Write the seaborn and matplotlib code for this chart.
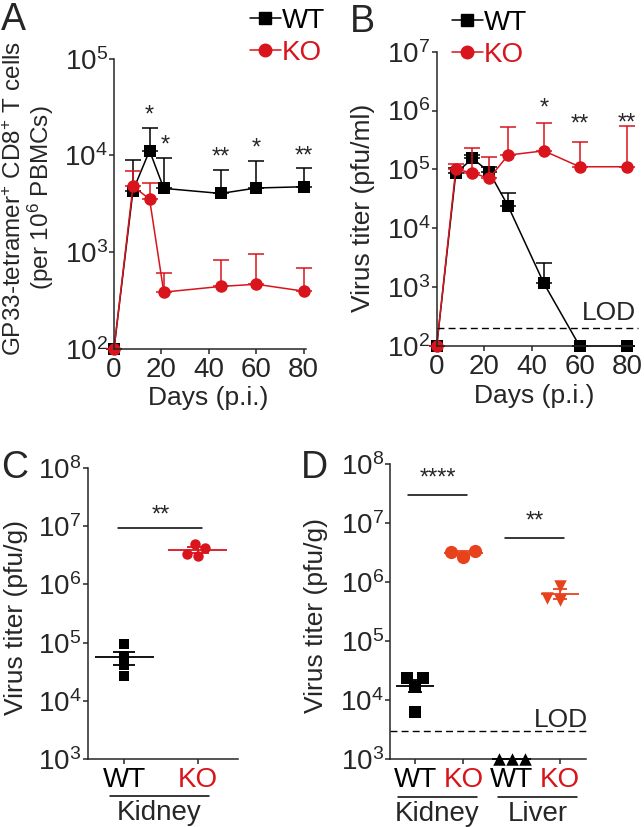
import numpy as np
import pandas as pd
import seaborn as sns
import matplotlib.pyplot as plt
from matplotlib import transforms
from matplotlib.lines import Line2D
from matplotlib.ticker import LogLocator, NullLocator

sns.set_style('ticks')
plt.rcParams['font.family'] = ['Liberation Sans', 'DejaVu Sans']
plt.rcParams['mathtext.fontset'] = 'custom'
plt.rcParams['mathtext.rm'] = 'Liberation Sans'
plt.rcParams['mathtext.it'] = 'Liberation Sans:italic'
plt.rcParams['mathtext.bf'] = 'Liberation Sans:bold'
plt.rcParams['mathtext.default'] = 'regular'
plt.rcParams['axes.linewidth'] = 1.1

RED = '#d8141c'
ORANGE = '#e8421c'

# ---- data A (tetramer+ cells, mean and top of error bar)
days_a = [0, 8, 15, 21, 45, 60, 80]
wt_a = [100, 4330, 11200, 4570, 4050, 4610, 4750]
wt_a_top = [100, 8980, 19300, 9460, 7130, 8810, 7350]
ko_a = [100, 4800, 3550, 387, 443, 467, 396]
ko_a_top = [100, 6840, 5240, 614, 828, 970, 695]
stars_a = ['', '', '*', '*', '**', '*', '**']

# ---- data B (virus titer in serum)
days_b = [0, 8, 15, 22, 30, 45, 60, 80]
wt_b = [100, 85500, 154000, 91000, 23800, 1160, 100, 100]
wt_b_top = [100, 105000, 175000, 110000, 40100, 2540, 100, 100]
ko_b = [100, 100000, 87700, 70300, 175000, 207000, 111000, 111000]
ko_b_top = [100, 126000, 228000, 164000, 528000, 603000, 287000, 550000]
stars_b = ['', '', '', '', '', '*', '**', '**']
stars_b_y = [0, 0, 0, 0, 0, 1.5e6, 7.8e5, 8.3e5]
lod_b = 200

# ---- data C (kidney)
c_wt = [95000, 59800, 41400, 26800]
c_ko = [4.2e6, 3.1e6, 3.36e6, 4.87e6]

# ---- data D (kidney and liver)
d_kid_wt = [23600, 24000, 16900, 6400]
d_kid_ko = [3.44e6, 3.22e6, 2.66e6]
d_liv_wt = [1000, 1000, 1000]
d_liv_ko = [877000, 500000, 548000]
lod_d = 3000

W, H = 644, 827
fig = plt.figure(figsize=(W / 100, H / 100), dpi=100)


def add_ax(l, t, r, b):
    return fig.add_axes([l / W, 1 - b / H, (r - l) / W, (b - t) / H])


def style_log(ax, lo, hi):
    ax.set_yscale('log')
    ax.set_ylim(lo, hi)
    ax.yaxis.set_major_locator(LogLocator(base=10, numticks=10))
    ax.yaxis.set_minor_locator(NullLocator())
    sns.despine(ax=ax)
    ax.tick_params(axis='both', labelsize=20, length=3.5, width=1.1, pad=2)
    ax.tick_params(axis='y', pad=1)


def time_panel(ax, days, wt, wt_top, ko, ko_top):
    df = pd.DataFrame({'day': days * 2, 'titer': wt + ko,
                       'geno': ['WT'] * len(days) + ['KO'] * len(days)})
    for g, col, top, mk in [('WT', 'black', wt_top, 's'), ('KO', RED, ko_top, 'o')]:
        sub = df[df.geno == g]
        ax.errorbar(sub.day, sub.titer, yerr=[np.zeros(len(sub)), np.array(top) - sub.titer.values],
                    fmt='none', ecolor=col, elinewidth=1.1, capsize=6, capthick=1.1, clip_on=False)
        sns.lineplot(data=sub, x='day', y='titer', color=col, marker=mk, markersize=9,
                     markeredgewidth=0, lw=1.1, ax=ax, clip_on=False, legend=False)
    ax.set_xlabel('Days (p.i.)', fontsize=19)
    ax.set_xticks([0, 20, 40, 60, 80])


def legend_at(ax, x, y):
    h = [Line2D([], [], color='black', marker='s', markersize=9, lw=1.1),
         Line2D([], [], color=RED, marker='o', markersize=9, lw=1.1)]
    ax.legend(h, ['WT', 'KO'], loc='upper left', bbox_to_anchor=(x / W, 1 - y / H),
              bbox_transform=fig.transFigure, frameon=False, handlelength=1.1,
              handletextpad=0.05, labelspacing=0.2, borderpad=0, borderaxespad=0,
              labelcolor='linecolor', fontsize=20)


def star(ax, x, y, s):
    ax.annotate(s, (x, y), xytext=(0, -10), textcoords='offset points',
                ha='center', va='baseline', fontsize=17, annotation_clip=False)


# ---------------- A
axA = add_ax(114, 58.7, 306, 349)
style_log(axA, 100, 1e5)
time_panel(axA, days_a, wt_a, wt_a_top, ko_a, ko_a_top)
axA.set_xlim(0, 81)
axA.set_ylabel('GP33-tetramer$^{+}$ CD8$^{+}$ T cells\n(per 10$^{6}$ PBMCs)', fontsize=17.5,
               linespacing=1.0)
axA.yaxis.set_label_coords(-0.30, 0.52)
axA.xaxis.set_label_coords(0.49, -0.128)
for d, top, s in zip(days_a, wt_a_top, stars_a):
    if s:
        star(axA, d + (0.5 if d == 21 else 0), top * 1.6, s)
legend_at(axA, 250, 8)

# ---------------- B
axB = add_ax(436.7, 51.7, 632, 346)
style_log(axB, 100, 1e7)
time_panel(axB, days_b, wt_b, wt_b_top, ko_b, ko_b_top)
axB.set_xlim(0, 82)
axB.axhline(lod_b, xmin=0, xmax=1.03, color='black', lw=1.0, dashes=(5, 3), clip_on=False)
axB.text(1.02, 280, 'LOD', transform=transforms.blended_transform_factory(axB.transAxes, axB.transData),
         ha='right', va='baseline', fontsize=19)
axB.set_ylabel('Virus titer (pfu/ml)', fontsize=19)
axB.yaxis.set_label_coords(-0.316, 0.47)
axB.xaxis.set_label_coords(0.5, -0.128)
for d, yy, s in zip(days_b, stars_b_y, stars_b):
    if s:
        star(axB, d, yy, s)
legend_at(axB, 452, 10)


# ---------------- C and D
def dot_panel(ax, groups, order, labels, halfw, cap):
    style_log(ax, 1e3, 1e8)
    frames = []
    for name, vals, col, mk, sz in groups:
        frames.append(pd.DataFrame({'group': name, 'titer': vals}))
    df = pd.concat(frames)
    for i, (name, vals, col, mk, sz) in enumerate(groups):
        sub = df[df.group == name]
        sns.swarmplot(data=sub, x='group', y='titer', order=order, color=col, marker=mk,
                      size=sz, linewidth=0, ax=ax, zorder=3)
        m = np.mean(vals)
        sem = np.std(vals, ddof=1) / np.sqrt(len(vals))
        ax.hlines(m, i - halfw, i + halfw, color=col, lw=1.3, zorder=4, clip_on=False)
        if sem > 0:
            ax.errorbar(i, m, yerr=sem, fmt='none', ecolor=col, elinewidth=1.3,
                        capsize=cap, capthick=1.3, zorder=4)
    for c in ax.collections:
        c.set_clip_on(False)
    ax.set_xticks(range(len(order)))
    ax.set_xticklabels(labels)
    for t, lab in zip(ax.get_xticklabels(), labels):
        t.set_color(RED if lab == 'KO' else 'black')
    ax.set_xlabel('')
    ax.set_ylabel('Virus titer (pfu/g)', fontsize=19)


def bracket(ax, x0, x1, y, s, sy):
    ax.plot([x0, x1], [y, y], color='black', lw=1.1, clip_on=False)
    star(ax, (x0 + x1) / 2, sy, s)


def organ(ax, x0, x1, name):
    tr = transforms.blended_transform_factory(ax.transData, ax.transAxes)
    ax.plot([x0, x1], [-0.127, -0.127], color='black', lw=1.1, transform=tr, clip_on=False)
    ax.text((x0 + x1) / 2, -0.14, name, transform=tr, ha='center', va='top', fontsize=20)


axC = add_ax(87.7, 467.7, 238, 759.3)
dot_panel(axC, [('WT', c_wt, 'black', 's', 6.5), ('KO', c_ko, RED, 'o', 7.5)],
          ['WT', 'KO'], ['WT', 'KO'], 0.4, 8)
axC.set_xlim(-0.5, 1.55)
axC.yaxis.set_label_coords(-0.40, 0.485)
bracket(axC, -0.08, 1.06, 9.2e6, '**', 2.1e7)
organ(axC, -0.2, 1.15, 'Kidney')

axD = add_ax(390, 464.3, 585.7, 759.3)
dot_panel(axD, [('Kidney WT', d_kid_wt, 'black', 's', 8.5), ('Kidney KO', d_kid_ko, ORANGE, 'o', 9.5),
                ('Liver WT', d_liv_wt, 'black', '^', 9), ('Liver KO', d_liv_ko, ORANGE, 'v', 9)],
          ['Kidney WT', 'Kidney KO', 'Liver WT', 'Liver KO'], ['WT', 'KO', 'WT', 'KO'], 0.4, 5)
axD.set_xlim(-0.52, 3.53)
axD.yaxis.set_label_coords(-0.317, 0.489)
axD.axhline(lod_d, xmin=0, xmax=1.0, color='black', lw=1.0, dashes=(5, 3), clip_on=False)
axD.text(1.01, 3500, 'LOD', transform=transforms.blended_transform_factory(axD.transAxes, axD.transData),
         ha='right', va='baseline', fontsize=19)
bracket(axD, -0.14, 1.07, 3.05e7, '****', 7.9e7)
bracket(axD, 1.86, 3.09, 5.57e6, '**', 1.48e7)
organ(axD, -0.35, 1.28, 'Kidney')
organ(axD, 1.72, 3.35, 'Liver')

# panel letters
for x, y, s in [(1, 2, 'A'), (350, 4, 'B'), (1, 450, 'C'), (301, 450, 'D')]:
    fig.text(x / W, 1 - y / H, s, fontsize=27, ha='left', va='top')

fig.savefig('out.png', dpi=100)
